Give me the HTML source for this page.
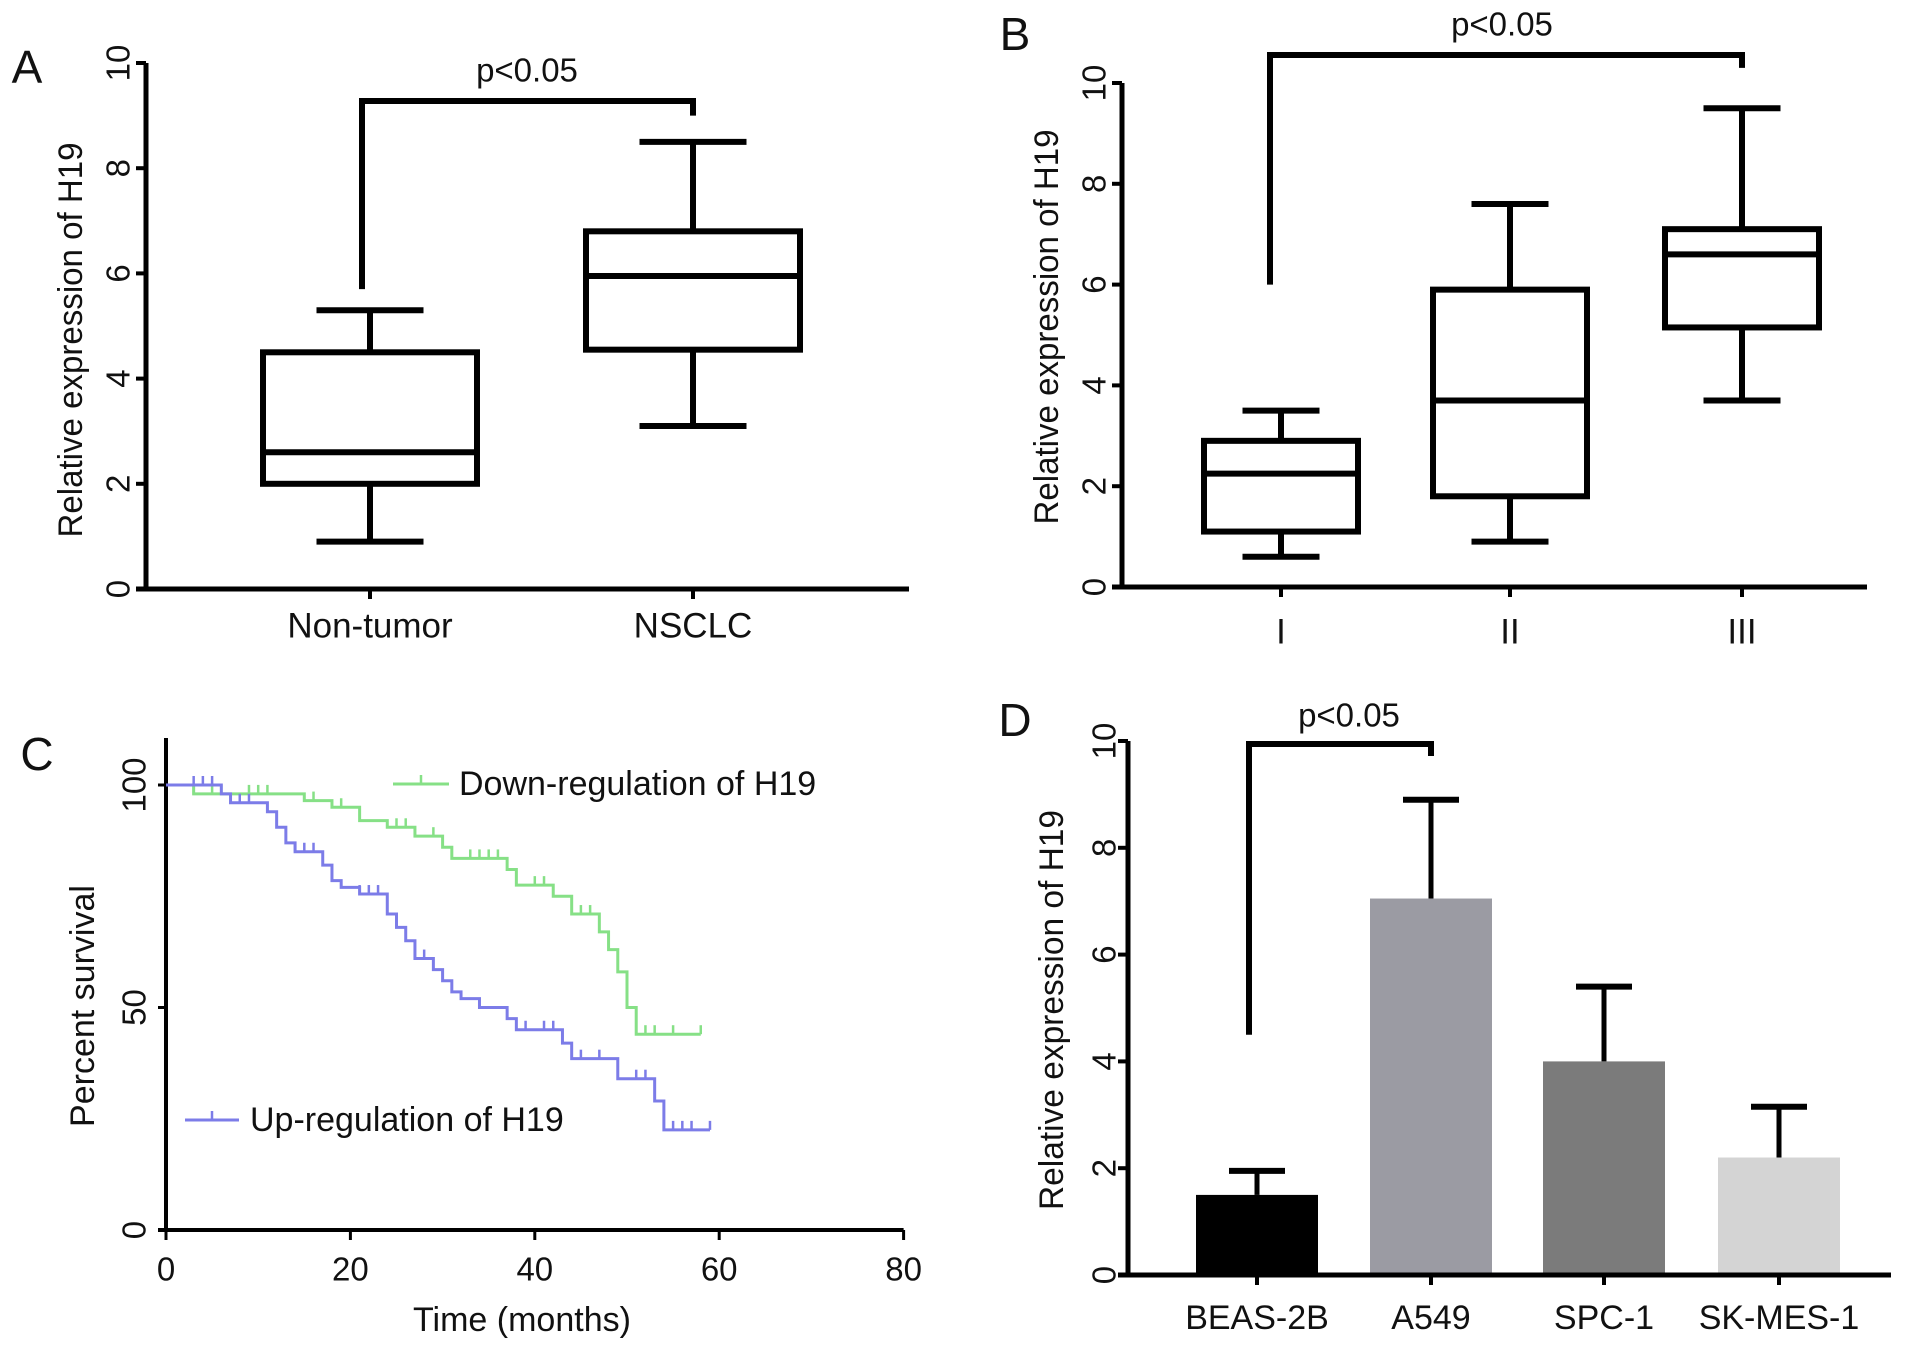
<!DOCTYPE html>
<html><head><meta charset="utf-8"><style>
html,body{margin:0;padding:0;background:#fff}
svg{display:block}
text{font-family:"Liberation Sans",Arial,sans-serif;fill:#111}
</style></head><body>
<svg id="fig" width="1913" height="1349" viewBox="0 0 1913 1349" xmlns="http://www.w3.org/2000/svg"></svg>
<script>
// ---- Panel A data
const aCats = ["Non-tumor", "NSCLC"];
const aMin = [0.9, 3.1];
const aQ1 = [2.0, 4.55];
const aMed = [2.6, 5.95];
const aQ3 = [4.5, 6.8];
const aMax = [5.3, 8.5];
// ---- Panel B data
const bCats = ["I", "II", "III"];
const bMin = [0.6, 0.9, 3.7];
const bQ1 = [1.1, 1.8, 5.15];
const bMed = [2.25, 3.7, 6.6];
const bQ3 = [2.9, 5.9, 7.1];
const bMax = [3.5, 7.6, 9.5];
const boxTicks = [0, 2, 4, 6, 8, 10];
// ---- Panel C data (Kaplan-Meier)
const downTimes = [0, 3, 15, 18, 21, 24, 27, 30, 31, 37, 38, 42, 44, 47, 48, 49, 50, 51, 58];
const downSurv = [100, 98, 96.5, 95, 92, 90.5, 88.5, 86, 83.5, 81, 77.5, 75, 71, 67, 63, 58, 50, 44, 44];
const downCens = [3, 5, 6, 9, 10, 11, 16, 19, 25, 26, 29, 33, 34, 35, 36, 40, 41, 45, 46, 52, 53, 55, 58];
const upTimes = [0, 6, 7, 11, 12, 13, 14, 17, 18, 19, 21, 24, 25, 26, 27, 29, 30, 31, 32, 34, 37, 38, 43, 44, 49, 53, 54, 59];
const upSurv = [100, 98, 96, 94, 90.5, 87, 85, 82, 78.5, 77, 75.5, 71, 68, 65, 61, 58.5, 56, 53.5, 52, 50, 47.5, 45, 42, 38.5, 34, 29, 22.5, 22.5];
const upCens = [3, 4, 5, 8, 9, 14, 15, 16, 21, 22, 23, 25, 28, 39, 41, 42, 45, 47, 51, 52, 55, 56, 57, 59];
const cXTicks = [0, 20, 40, 60, 80];
const cYTicks = [0, 50, 100];
// ---- Panel D data
const dCats = ["BEAS-2B", "A549", "SPC-1", "SK-MES-1"];
const dVals = [1.5, 7.05, 4.0, 2.2];
const dErr = [0.45, 1.85, 1.4, 0.95];

const svg = document.getElementById('fig');
const NS = 'http://www.w3.org/2000/svg';
function mk(tag, attrs, parent) {
  const e = document.createElementNS(NS, tag);
  for (const k in attrs) e.setAttribute(k, attrs[k]);
  (parent || svg).appendChild(e);
  return e;
}
function txt(s, x, y, size, opts) {
  opts = opts || {};
  const t = mk('text', {x: x, y: y, 'font-size': size, 'text-anchor': opts.anchor || 'middle', 'dominant-baseline': 'central'});
  if (opts.rot) t.setAttribute('transform', 'rotate(-90 ' + x + ' ' + y + ')');
  if (opts.len) { t.setAttribute('textLength', opts.len); t.setAttribute('lengthAdjust', 'spacingAndGlyphs'); }
  t.textContent = s;
  return t;
}

// Panel letters
[["A",27,67],["B",1015,34],["C",37,754],["D",1015,720]].forEach(p => {
  const t = txt(p[0], p[1], p[2], 46);
  
  
});

function boxPanel(cfg) {
  const y = v => cfg.y0 - v * cfg.unit;
  const g = mk('g', {});
  
  
  mk('line', {x1: cfg.ax, y1: y(0), x2: cfg.ax, y2: y(10), stroke: '#000', 'stroke-width': 5}, g);
  mk('line', {x1: cfg.ax - 10, y1: y(0), x2: cfg.xend, y2: y(0), stroke: '#000', 'stroke-width': 5}, g);
  boxTicks.forEach(v => {
    mk('line', {x1: cfg.ax - 10, y1: y(v), x2: cfg.ax, y2: y(v), stroke: '#000', 'stroke-width': 4}, g);
    const t = txt(String(v), cfg.tlx, y(v), 33, {rot: true});
    
    
  });
  cfg.cats.forEach((c, i) => {
    const cx = cfg.cx[i], hw = cfg.hw;
    mk('line', {x1: cx, y1: y(0), x2: cx, y2: y(0) + 10, stroke: '#000', 'stroke-width': 4}, g);
    const t = txt(c, cx, cfg.cly, 35);
    
    
    const b = mk('g', {}, g);
    
    
    const sw = 6;
    mk('rect', {x: cx - hw, y: y(cfg.q3[i]), width: 2 * hw, height: y(cfg.q1[i]) - y(cfg.q3[i]), fill: 'none', stroke: '#000', 'stroke-width': sw}, b);
    mk('line', {x1: cx - hw, y1: y(cfg.med[i]), x2: cx + hw, y2: y(cfg.med[i]), stroke: '#000', 'stroke-width': sw}, b);
    mk('line', {x1: cx, y1: y(cfg.q3[i]), x2: cx, y2: y(cfg.max[i]), stroke: '#000', 'stroke-width': sw}, b);
    mk('line', {x1: cx, y1: y(cfg.q1[i]), x2: cx, y2: y(cfg.min[i]), stroke: '#000', 'stroke-width': sw}, b);
    mk('line', {x1: cx - hw / 2, y1: y(cfg.max[i]), x2: cx + hw / 2, y2: y(cfg.max[i]), stroke: '#000', 'stroke-width': sw}, b);
    mk('line', {x1: cx - hw / 2, y1: y(cfg.min[i]), x2: cx + hw / 2, y2: y(cfg.min[i]), stroke: '#000', 'stroke-width': sw}, b);
  });
  const yt = txt('Relative expression of H19', cfg.ytx, cfg.yty, 34, {rot: true, len: 395});
  
  
  return y;
}

const yA = boxPanel({name: 'panel-a-boxplot', ax: 146, y0: 589, unit: 52.6, xend: 909, tlx: 118, cly: 626,
  cats: aCats, cx: [370, 693], hw: 107, min: aMin, q1: aQ1, med: aMed, q3: aQ3, max: aMax, ytx: 71, yty: 340});
mk('polyline', {points: `362,${yA(5.7)} 362,101 693,101 693,${yA(9.0)}`, fill: 'none', stroke: '#000', 'stroke-width': 6});
let p = txt('p<0.05', 527, 70, 33);  

const yB = boxPanel({name: 'panel-b-boxplot', ax: 1122, y0: 587, unit: 50.4, xend: 1867, tlx: 1094, cly: 632,
  cats: bCats, cx: [1281, 1510, 1742], hw: 77, min: bMin, q1: bQ1, med: bMed, q3: bQ3, max: bMax, ytx: 1047, yty: 327});
mk('polyline', {points: `1270,${yB(6.0)} 1270,55 1742,55 1742,${yB(10.3)}`, fill: 'none', stroke: '#000', 'stroke-width': 6});
p = txt('p<0.05', 1502, 24, 33);  

// ---- Panel C
const cx0 = 166, cy0 = 1230, cxu = 9.22, cyu = 4.45;
const X = t => cx0 + t * cxu;
const Y = s => cy0 - s * cyu;
const gc = mk('g', {});


mk('line', {x1: cx0, y1: 738, x2: cx0, y2: cy0, stroke: '#000', 'stroke-width': 4}, gc);
mk('line', {x1: cx0 - 8, y1: cy0, x2: X(80), y2: cy0, stroke: '#000', 'stroke-width': 4}, gc);
cXTicks.forEach(v => {
  mk('line', {x1: X(v), y1: cy0, x2: X(v), y2: cy0 + 10, stroke: '#000', 'stroke-width': 3}, gc);
  const t = txt(String(v), X(v), 1269, 33);
  
  
});
cYTicks.forEach(v => {
  mk('line', {x1: cx0 - 8, y1: Y(v), x2: cx0, y2: Y(v), stroke: '#000', 'stroke-width': 3}, gc);
  const t = txt(String(v), 134, Y(v), 33, {rot: true});
  
  
});
let t = txt('Time (months)', 522, 1320, 34);  
t = txt('Percent survival', 83, 1006, 34); t.setAttribute('transform', 'rotate(-90 83 1006)');  
function survAt(times, surv, tt) { let s = surv[0]; for (let i = 0; i < times.length; i++) if (times[i] <= tt) s = surv[i]; return s; }
function km(times, surv, cens, col, name) {
  let d = `M${X(times[0])},${Y(surv[0])}`;
  for (let i = 1; i < times.length; i++) d += ` H${X(times[i])} V${Y(surv[i])}`;
  const path = mk('path', {d: d, fill: 'none', stroke: col, 'stroke-width': 3}, gc);
  
  
  cens.forEach(c => {
    const s = survAt(times, surv, c);
    mk('line', {x1: X(c), y1: Y(s), x2: X(c), y2: Y(s) - 9, stroke: col, 'stroke-width': 2.5}, gc);
  });
}
km(downTimes, downSurv, downCens, '#86e086', 'down-regulation-curve');
km(upTimes, upSurv, upCens, '#7c7ce8', 'up-regulation-curve');
const lg1 = mk('g', {}, gc);  
mk('line', {x1: 393, y1: 784, x2: 449, y2: 784, stroke: '#86e086', 'stroke-width': 3}, lg1);
mk('line', {x1: 421, y1: 784, x2: 421, y2: 775, stroke: '#86e086', 'stroke-width': 2.5}, lg1);
mk('text', {x: 459, y: 784, 'font-size': 34, 'dominant-baseline': 'central'}, lg1).textContent = 'Down-regulation of H19';
const lg2 = mk('g', {}, gc);  
mk('line', {x1: 185, y1: 1120, x2: 239, y2: 1120, stroke: '#7c7ce8', 'stroke-width': 3}, lg2);
mk('line', {x1: 212, y1: 1120, x2: 212, y2: 1111, stroke: '#7c7ce8', 'stroke-width': 2.5}, lg2);
mk('text', {x: 250, y: 1120, 'font-size': 34, 'dominant-baseline': 'central'}, lg2).textContent = 'Up-regulation of H19';

// ---- Panel D
const dx0 = 1128, dy0 = 1275, du = 53.4;
const YD = v => dy0 - v * du;
const dCx = [1257, 1431, 1604, 1779];
const dCol = ['#000000', '#9b9ba3', '#7b7b7b', '#d4d4d4'];
const gd = mk('g', {});


dCats.forEach((c, i) => {
  const r = mk('rect', {x: dCx[i] - 61, y: YD(dVals[i]), width: 122, height: YD(0) - YD(dVals[i]), fill: dCol[i]}, gd);
  
  
  const top = YD(dVals[i] + dErr[i]);
  mk('line', {x1: dCx[i], y1: YD(dVals[i]), x2: dCx[i], y2: top, stroke: '#000', 'stroke-width': 5}, gd);
  mk('line', {x1: dCx[i] - 28, y1: top, x2: dCx[i] + 28, y2: top, stroke: '#000', 'stroke-width': 6}, gd);
  mk('line', {x1: dCx[i], y1: dy0, x2: dCx[i], y2: dy0 + 10, stroke: '#000', 'stroke-width': 4}, gd);
  const l = txt(c, dCx[i], 1318, 34);
  
  
});
mk('line', {x1: dx0, y1: dy0, x2: dx0, y2: YD(10), stroke: '#000', 'stroke-width': 5}, gd);
mk('line', {x1: dx0 - 10, y1: dy0, x2: 1891, y2: dy0, stroke: '#000', 'stroke-width': 5}, gd);
boxTicks.forEach(v => {
  mk('line', {x1: dx0 - 10, y1: YD(v), x2: dx0, y2: YD(v), stroke: '#000', 'stroke-width': 4}, gd);
  const l = txt(String(v), 1104, YD(v), 33, {rot: true});
  
  
});
t = txt('Relative expression of H19', 1052, 1010, 34, {rot: true, len: 400});
 
mk('polyline', {points: `1249,${YD(4.5)} 1249,744 1431,744 1431,756`, fill: 'none', stroke: '#000', 'stroke-width': 6});
p = txt('p<0.05', 1349, 715, 33);  
</script>
</body></html>
